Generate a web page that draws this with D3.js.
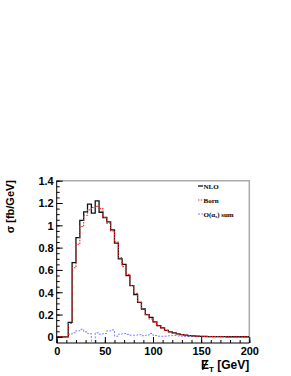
<!DOCTYPE html>
<html>
<head>
<meta charset="utf-8">
<script src="https://cdn.jsdelivr.net/npm/d3@7"></script>
<style>
    body { margin: 0; background: #fff; }
    svg { display: block; }
    .tick-label { font-family: "Liberation Sans", Arial, sans-serif; font-weight: bold; font-size: 11px; }
    .legend-text { font-family: "Liberation Serif", "Times New Roman", serif; font-weight: bold; font-size: 7px; }
</style>
</head>
<body>
<svg id="chart" width="291" height="376"></svg>
<script>
// bin edges in GeV (4 GeV bins from 0 to 200)
var binEdges = d3.range(0, 201, 4);

// NLO, fb/GeV
var nlo = [0, 0, 0, 0.13, 0.665, 0.89, 1.045, 1.12, 1.19, 1.11,
    1.22, 1.117, 1.07, 1.03, 0.96, 0.84, 0.70, 0.65, 0.55, 0.46,
    0.38, 0.31, 0.25, 0.20, 0.175, 0.135, 0.10, 0.08, 0.058, 0.045,
    0.035, 0.027, 0.02, 0.016, 0.012, 0.009, 0.007, 0.005, 0.004, 0.003,
    0.003, 0.002, 0.002, 0.002, 0.001, 0.001, 0.001, 0.001, 0.001, 0.001];

// Born
var born = [0, 0, 0, 0.12, 0.62, 0.83, 0.99, 1.09, 1.14, 1.16,
    1.17, 1.15, 1.07, 1.02, 0.95, 0.85, 0.71, 0.63, 0.56, 0.46,
    0.39, 0.31, 0.25, 0.20, 0.16, 0.13, 0.10, 0.078, 0.058, 0.045,
    0.034, 0.026, 0.02, 0.015, 0.011, 0.008, 0.006, 0.005, 0.004, 0.003,
    0.002, 0.002, 0.002, 0.001, 0.001, 0.001, 0.001, 0.001, 0.001, 0.001];

// O(alpha_s) sum
var oas = [0, 0, 0, 0.024, 0.036, 0.054, 0.068, 0.045, 0.03, -0.08,
    0.036, 0.024, 0.03, 0.054, 0.062, 0.006, 0.024, 0.03, 0.022, 0.015,
    0.015, 0.02, 0.01, 0.015, 0.03, 0.012, 0.006, 0.005, 0.006, 0.01,
    0.012, 0.008, 0.006, 0.004, 0.003, 0.003, 0.002, 0.001, 0.001, 0.001,
    0.001, 0.001, 0.001, 0, 0, 0, 0, 0, 0, 0];

var xTicks = [0, 50, 100, 150, 200];
var yTicks = [0, 0.2, 0.4, 0.6, 0.8, 1, 1.2, 1.4];

var svg = d3.select("#chart");

var frameL = 56.7, frameR = 249.3, frameT = 180.7, frameB = 343;

var x = d3.scaleLinear().domain([0, 200]).range([frameL, frameR]);
var y = d3.scaleLinear().domain([-0.055, 1.4]).range([frameB, frameT]);

// clip for histograms
svg.append("clipPath").attr("id", "clip")
    .append("rect")
    .attr("x", frameL).attr("y", frameT)
    .attr("width", frameR - frameL).attr("height", frameB - frameT);

// frame top and right (grey)
svg.append("line").attr("x1", frameL).attr("x2", frameR + 0.75).attr("y1", frameT).attr("y2", frameT)
    .attr("stroke", "#aaa").attr("stroke-width", 1.5);
svg.append("line").attr("x1", frameR).attr("x2", frameR).attr("y1", frameT).attr("y2", frameB)
    .attr("stroke", "#aaa").attr("stroke-width", 1.5);

function stepPoints(values) {
    var pts = values.map(function (v, i) { return [binEdges[i], v]; });
    pts.push([binEdges[binEdges.length - 1], values[values.length - 1]]);
    return pts;
}

var line = d3.line()
    .x(function (d) { return x(d[0]); })
    .y(function (d) { return y(d[1]); })
    .curve(d3.curveStepAfter);

var plot = svg.append("g").attr("clip-path", "url(#clip)");

plot.append("path").datum(stepPoints(oas))
    .attr("d", line).attr("fill", "none")
    .attr("stroke", "#7b7bff").attr("stroke-width", 1)
    .attr("stroke-dasharray", "2,1.5");

plot.append("path").datum(stepPoints(nlo))
    .attr("d", line).attr("fill", "none")
    .attr("stroke", "#111").attr("stroke-width", 1.3);

plot.append("path").datum(stepPoints(born))
    .attr("d", line).attr("fill", "none")
    .attr("stroke", "#ff2020").attr("stroke-width", 1.1)
    .attr("stroke-dasharray", "1.5,1.2");

// y axis, ticks inward
var yMinor = d3.range(0, 1.401, 0.05);
svg.append("g").attr("transform", "translate(" + frameL + ",0)")
    .call(d3.axisRight(y).tickValues(yMinor).tickSize(3).tickFormat(""))
    .call(function (g) { g.select(".domain").remove(); });
var yAxis = svg.append("g").attr("transform", "translate(" + frameL + ",0)")
    .call(d3.axisRight(y).tickValues(yTicks).tickSize(6)
        .tickFormat(function (d) { return d3.format("~g")(d); }));
yAxis.select(".domain").attr("d", "M0," + frameB + "V" + frameT);
yAxis.selectAll(".tick text")
    .attr("class", "tick-label")
    .attr("x", -3).attr("text-anchor", "end").attr("dy", "0.36em");

// x axis, ticks inward
var xMinor = d3.range(0, 201, 10);
svg.append("g").attr("transform", "translate(0," + frameB + ")")
    .call(d3.axisTop(x).tickValues(xMinor).tickSize(3).tickFormat(""))
    .call(function (g) { g.select(".domain").remove(); });
var xAxis = svg.append("g").attr("transform", "translate(0," + frameB + ")")
    .call(d3.axisTop(x).tickValues(xTicks).tickSize(6));
xAxis.select(".domain").attr("d", "M" + frameL + ",0H" + frameR);
xAxis.selectAll(".tick text")
    .attr("class", "tick-label")
    .attr("y", 4).attr("dy", "0.71em");
svg.selectAll(".domain").attr("stroke", "#000");
svg.selectAll(".tick line").attr("stroke", "#000");

// axis titles
var xt = svg.append("text").attr("class", "tick-label")
    .attr("x", frameR).attr("y", 369).attr("text-anchor", "end")
    .style("font-size", "12px");
xt.append("tspan").text("E");
xt.append("tspan").style("font-size", "8px").attr("dy", 3).text("T");
xt.append("tspan").attr("dy", -3).text(" [GeV]");

// slash over E (missing ET)
var bb = xt.node().getBBox();
svg.append("line")
    .attr("x1", bb.x + 1.5).attr("y1", 370)
    .attr("x2", bb.x + 6.5).attr("y2", 360)
    .attr("stroke", "#000").attr("stroke-width", 1.2);

svg.append("text").attr("class", "tick-label")
    .attr("transform", "translate(14,180) rotate(-90)")
    .attr("text-anchor", "end").style("font-size", "11px")
    .text("σ [fb/GeV]");

// legend
var legend = [
    {label: "NLO", color: "#111", dash: null, w: 1.3},
    {label: "Born", color: "#ff2020", dash: "1.5,1.2", w: 1.1},
    {label: "O(α", color: "#7b7bff", dash: "2,1.5", w: 1}
];
legend.forEach(function (d, i) {
    var ly = 186 + i * 14;
    svg.append("line").attr("x1", 198).attr("x2", 203).attr("y1", ly).attr("y2", ly)
        .attr("stroke", d.color).attr("stroke-width", d.w)
        .attr("stroke-dasharray", d.dash);
    var t = svg.append("text").attr("class", "legend-text")
        .attr("x", 203.5).attr("y", ly + 2.5);
    t.append("tspan").text(d.label);
    if (i === 2) {
        t.append("tspan").style("font-size", "5px").attr("dy", 1.5).text("s");
        t.append("tspan").attr("dy", -1.5).text(") sum");
    }
});
</script>
</body>
</html>
